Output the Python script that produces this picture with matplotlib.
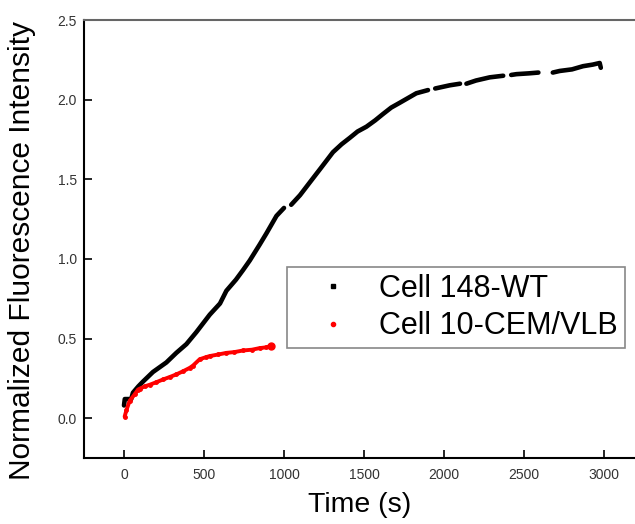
import numpy as np
import matplotlib
matplotlib.use("Agg")
import matplotlib.pyplot as plt
from matplotlib.lines import Line2D

plt.rcParams['font.family'] = ['Liberation Sans', 'DejaVu Sans']

# Cell 148-WT (black), nan = gap in the recorded trace
wt_time = [0, 5, 45, 56, 90, 119, 150, 181, 223, 265, 327, 390, 452, 536, 600, 640,
           700, 744, 786, 848, 890, 953, 1000, 1020, 1045, 1100, 1161, 1230, 1306,
           1360, 1411, 1460, 1515, 1570, 1619, 1670, 1723, 1775, 1827, 1900, 1925,
           1945, 2036, 2100, 2115, 2140, 2200, 2286, 2370, 2400, 2420, 2453, 2530,
           2590, 2610, 2680, 2723, 2800, 2869, 2930, 2973, 2980]
wt_value = [0.08, 0.12, 0.12, 0.16, 0.20, 0.23, 0.26, 0.29, 0.32, 0.35, 0.41, 0.465,
            0.54, 0.65, 0.72, 0.80, 0.87, 0.93, 0.99, 1.09, 1.16, 1.27, 1.32, np.nan,
            1.34, 1.40, 1.48, 1.57, 1.67, 1.72, 1.76, 1.80, 1.83, 1.87, 1.91, 1.95,
            1.98, 2.01, 2.04, 2.06, np.nan, 2.07, 2.09, 2.10, np.nan, 2.10, 2.12,
            2.14, 2.15, np.nan, 2.155, 2.16, 2.165, 2.17, np.nan, 2.17, 2.18, 2.19,
            2.21, 2.22, 2.23, 2.20]

# Cell 10-CEM/VLB (red)
vlb_time = [4, 15, 36, 67, 88, 98, 130, 161, 200, 244, 290, 327, 370, 411, 431,
            473, 515, 536, 590, 640, 690, 744, 800, 848, 890, 921]
vlb_value = [0.01, 0.05, 0.11, 0.15, 0.18, 0.185, 0.20, 0.21, 0.225, 0.243, 0.26,
             0.275, 0.295, 0.316, 0.33, 0.37, 0.384, 0.39, 0.40, 0.41, 0.415, 0.425,
             0.43, 0.44, 0.445, 0.455]

x_ticks = [0, 500, 1000, 1500, 2000, 2500, 3000]
y_ticks = [0.0, 0.5, 1.0, 1.5, 2.0, 2.5]

fig = plt.figure(figsize=(6.35, 5.24), dpi=100)
ax = fig.add_axes([84 / 635, 66 / 524, 560 / 635, 438 / 524])

ax.plot(wt_time, wt_value, color='black', lw=3.3, solid_capstyle='round',
        solid_joinstyle='round')
ax.plot(vlb_time, vlb_value, color='red', lw=2.8, marker='o', ms=2.5,
        solid_capstyle='round')
ax.plot(vlb_time[-1:], vlb_value[-1:], 'o', color='red', ms=5)

ax.set_xlim(-250, 3250)
ax.set_ylim(-0.25, 2.5)
ax.set_xticks(x_ticks)
ax.set_yticks(y_ticks)
ax.set_yticklabels([f"{v:.1f}" for v in y_ticks])
ax.tick_params(direction='in', length=6, width=1.2, labelsize=10,
               labelcolor='#333333')
ax.tick_params(axis='x', pad=7)
ax.tick_params(axis='y', pad=5)
for side in ['left', 'bottom']:
    ax.spines[side].set_linewidth(1.5)
ax.spines['top'].set_color('#666666')
ax.spines['top'].set_linewidth(1.5)

fig.text(22 / 635, 1 - 251 / 524, 'Normalized Fluorescence Intensity',
         rotation=90, ha='center', va='center', fontsize=21.5)
fig.text(360 / 635, 1 - 505 / 524, 'Time (s)', ha='center', va='center',
         fontsize=20.5)

handles = [Line2D([], [], color='black', marker='s', ls='none', ms=2.5),
           Line2D([], [], color='red', marker='o', ls='none', ms=3)]
leg = ax.legend(handles, ['Cell 148-WT', 'Cell 10-CEM/VLB'], loc='upper left',
                bbox_to_anchor=(287 / 635, 1 - 267 / 524),
                bbox_transform=fig.transFigure, borderaxespad=0, fontsize=22,
                fancybox=False, edgecolor='#888888', framealpha=1,
                borderpad=0.22, handlelength=2.6, handletextpad=0.2,
                labelspacing=0.25)
leg.get_frame().set_linewidth(1.2)

fig.savefig('out.png', dpi=100)
